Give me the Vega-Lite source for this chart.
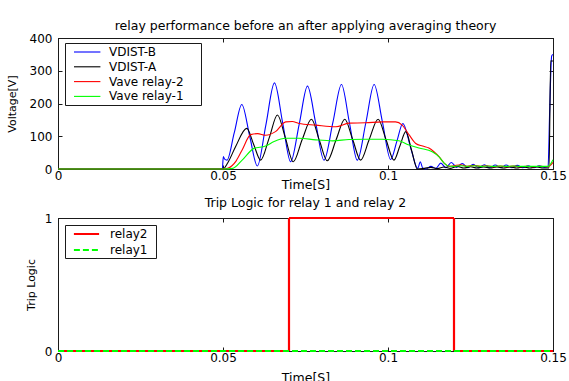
{
  "$schema": "https://vega.github.io/schema/vega-lite/v6.json",
  "padding": {"left": 5, "top": 19, "right": 0, "bottom": 0},
  "background": "white",
  "spacing": 5,
  "resolve": {"scale": {"color": "independent", "strokeDash": "independent", "x": "independent", "y": "independent"}, "legend": {"color": "independent", "strokeDash": "independent"}},
  "datasets": {
    "top": [
      {"s":"VDIST-B","t":0,"v":0},{"s":"VDIST-B","t":0.0498,"v":0},{"s":"VDIST-B","t":0.0501,"v":38},{"s":"VDIST-B","t":0.0505,"v":30},{"s":"VDIST-B","t":0.0512,"v":27},{"s":"VDIST-B","t":0.0534,"v":110},{"s":"VDIST-B","t":0.0557,"v":197},{"s":"VDIST-B","t":0.0581,"v":100},{"s":"VDIST-B","t":0.0604,"v":9},{"s":"VDIST-B","t":0.063,"v":135},{"s":"VDIST-B","t":0.0656,"v":263},{"s":"VDIST-B","t":0.0681,"v":140},{"s":"VDIST-B","t":0.0705,"v":22},{"s":"VDIST-B","t":0.0731,"v":137},{"s":"VDIST-B","t":0.0756,"v":253},{"s":"VDIST-B","t":0.0781,"v":140},{"s":"VDIST-B","t":0.0806,"v":27},{"s":"VDIST-B","t":0.0833,"v":142},{"s":"VDIST-B","t":0.0859,"v":258},{"s":"VDIST-B","t":0.0883,"v":142},{"s":"VDIST-B","t":0.0907,"v":27},{"s":"VDIST-B","t":0.0933,"v":142},{"s":"VDIST-B","t":0.0958,"v":258},{"s":"VDIST-B","t":0.0983,"v":144},{"s":"VDIST-B","t":0.1008,"v":29},{"s":"VDIST-B","t":0.1027,"v":85},{"s":"VDIST-B","t":0.1045,"v":139},{"s":"VDIST-B","t":0.107,"v":60},{"s":"VDIST-B","t":0.109,"v":2},{"s":"VDIST-B","t":0.1098,"v":22},{"s":"VDIST-B","t":0.1105,"v":3},{"s":"VDIST-B","t":0.1115,"v":0},{"s":"VDIST-B","t":0.113,"v":8},{"s":"VDIST-B","t":0.1145,"v":2},{"s":"VDIST-B","t":0.116,"v":18},{"s":"VDIST-B","t":0.1175,"v":4},{"s":"VDIST-B","t":0.1192,"v":20},{"s":"VDIST-B","t":0.1208,"v":5},{"s":"VDIST-B","t":0.1225,"v":17},{"s":"VDIST-B","t":0.1242,"v":4},{"s":"VDIST-B","t":0.1258,"v":14},{"s":"VDIST-B","t":0.1275,"v":4},{"s":"VDIST-B","t":0.1292,"v":13},{"s":"VDIST-B","t":0.1308,"v":4},{"s":"VDIST-B","t":0.1325,"v":12},{"s":"VDIST-B","t":0.1342,"v":4},{"s":"VDIST-B","t":0.1358,"v":12},{"s":"VDIST-B","t":0.1375,"v":4},{"s":"VDIST-B","t":0.1392,"v":11},{"s":"VDIST-B","t":0.1408,"v":4},{"s":"VDIST-B","t":0.1425,"v":10},{"s":"VDIST-B","t":0.1442,"v":4},{"s":"VDIST-B","t":0.1458,"v":10},{"s":"VDIST-B","t":0.1475,"v":5},{"s":"VDIST-B","t":0.1485,"v":6},{"s":"VDIST-B","t":0.149,"v":180},{"s":"VDIST-B","t":0.1496,"v":345},{"s":"VDIST-B","t":0.15,"v":350},
      {"s":"VDIST-A","t":0,"v":0},{"s":"VDIST-A","t":0.05,"v":0},{"s":"VDIST-A","t":0.0515,"v":20},{"s":"VDIST-A","t":0.0538,"v":68},{"s":"VDIST-A","t":0.0572,"v":124},{"s":"VDIST-A","t":0.0593,"v":75},{"s":"VDIST-A","t":0.0614,"v":27},{"s":"VDIST-A","t":0.064,"v":95},{"s":"VDIST-A","t":0.0665,"v":165},{"s":"VDIST-A","t":0.0689,"v":95},{"s":"VDIST-A","t":0.0713,"v":22},{"s":"VDIST-A","t":0.074,"v":90},{"s":"VDIST-A","t":0.0768,"v":152},{"s":"VDIST-A","t":0.0792,"v":88},{"s":"VDIST-A","t":0.0816,"v":25},{"s":"VDIST-A","t":0.0843,"v":90},{"s":"VDIST-A","t":0.0869,"v":152},{"s":"VDIST-A","t":0.0893,"v":90},{"s":"VDIST-A","t":0.0917,"v":27},{"s":"VDIST-A","t":0.0943,"v":90},{"s":"VDIST-A","t":0.097,"v":152},{"s":"VDIST-A","t":0.0994,"v":90},{"s":"VDIST-A","t":0.1018,"v":27},{"s":"VDIST-A","t":0.1036,"v":70},{"s":"VDIST-A","t":0.1054,"v":114},{"s":"VDIST-A","t":0.1072,"v":55},{"s":"VDIST-A","t":0.1089,"v":0},{"s":"VDIST-A","t":0.111,"v":2},{"s":"VDIST-A","t":0.113,"v":5},{"s":"VDIST-A","t":0.115,"v":1},{"s":"VDIST-A","t":0.117,"v":6},{"s":"VDIST-A","t":0.119,"v":2},{"s":"VDIST-A","t":0.121,"v":8},{"s":"VDIST-A","t":0.123,"v":3},{"s":"VDIST-A","t":0.125,"v":7},{"s":"VDIST-A","t":0.127,"v":3},{"s":"VDIST-A","t":0.129,"v":6},{"s":"VDIST-A","t":0.131,"v":3},{"s":"VDIST-A","t":0.133,"v":6},{"s":"VDIST-A","t":0.135,"v":3},{"s":"VDIST-A","t":0.137,"v":6},{"s":"VDIST-A","t":0.139,"v":3},{"s":"VDIST-A","t":0.141,"v":6},{"s":"VDIST-A","t":0.143,"v":3},{"s":"VDIST-A","t":0.145,"v":6},{"s":"VDIST-A","t":0.147,"v":3},{"s":"VDIST-A","t":0.1488,"v":3},{"s":"VDIST-A","t":0.1493,"v":330},{"s":"VDIST-A","t":0.15,"v":330},
      {"s":"Vave relay-2","t":0,"v":0},{"s":"Vave relay-2","t":0.05,"v":0},{"s":"Vave relay-2","t":0.0516,"v":3},{"s":"Vave relay-2","t":0.054,"v":25},{"s":"Vave relay-2","t":0.0558,"v":58},{"s":"Vave relay-2","t":0.0584,"v":105},{"s":"Vave relay-2","t":0.0605,"v":108},{"s":"Vave relay-2","t":0.0629,"v":103},{"s":"Vave relay-2","t":0.0659,"v":114},{"s":"Vave relay-2","t":0.069,"v":144},{"s":"Vave relay-2","t":0.071,"v":145},{"s":"Vave relay-2","t":0.073,"v":139},{"s":"Vave relay-2","t":0.0781,"v":134},{"s":"Vave relay-2","t":0.0842,"v":129},{"s":"Vave relay-2","t":0.0882,"v":140},{"s":"Vave relay-2","t":0.0932,"v":141},{"s":"Vave relay-2","t":0.0983,"v":144},{"s":"Vave relay-2","t":0.1023,"v":144},{"s":"Vave relay-2","t":0.1043,"v":134},{"s":"Vave relay-2","t":0.1064,"v":104},{"s":"Vave relay-2","t":0.1084,"v":78},{"s":"Vave relay-2","t":0.1105,"v":70},{"s":"Vave relay-2","t":0.1124,"v":64},{"s":"Vave relay-2","t":0.114,"v":52},{"s":"Vave relay-2","t":0.1155,"v":37},{"s":"Vave relay-2","t":0.117,"v":18},{"s":"Vave relay-2","t":0.1185,"v":8},{"s":"Vave relay-2","t":0.12,"v":10},{"s":"Vave relay-2","t":0.122,"v":13},{"s":"Vave relay-2","t":0.124,"v":8},{"s":"Vave relay-2","t":0.126,"v":11},{"s":"Vave relay-2","t":0.128,"v":8},{"s":"Vave relay-2","t":0.13,"v":10},{"s":"Vave relay-2","t":0.132,"v":7},{"s":"Vave relay-2","t":0.134,"v":9},{"s":"Vave relay-2","t":0.136,"v":7},{"s":"Vave relay-2","t":0.138,"v":9},{"s":"Vave relay-2","t":0.14,"v":7},{"s":"Vave relay-2","t":0.142,"v":8},{"s":"Vave relay-2","t":0.144,"v":7},{"s":"Vave relay-2","t":0.146,"v":8},{"s":"Vave relay-2","t":0.1485,"v":7},{"s":"Vave relay-2","t":0.15,"v":20},
      {"s":"Vave relay-1","t":0,"v":0},{"s":"Vave relay-1","t":0.05,"v":0},{"s":"Vave relay-1","t":0.053,"v":2},{"s":"Vave relay-1","t":0.0558,"v":27},{"s":"Vave relay-1","t":0.0594,"v":63},{"s":"Vave relay-1","t":0.0629,"v":70},{"s":"Vave relay-1","t":0.0655,"v":84},{"s":"Vave relay-1","t":0.069,"v":94},{"s":"Vave relay-1","t":0.073,"v":94},{"s":"Vave relay-1","t":0.0781,"v":89},{"s":"Vave relay-1","t":0.0832,"v":86},{"s":"Vave relay-1","t":0.0882,"v":90},{"s":"Vave relay-1","t":0.0932,"v":91},{"s":"Vave relay-1","t":0.0983,"v":91},{"s":"Vave relay-1","t":0.1033,"v":86},{"s":"Vave relay-1","t":0.1064,"v":73},{"s":"Vave relay-1","t":0.1094,"v":64},{"s":"Vave relay-1","t":0.1134,"v":53},{"s":"Vave relay-1","t":0.1155,"v":37},{"s":"Vave relay-1","t":0.117,"v":18},{"s":"Vave relay-1","t":0.1182,"v":9},{"s":"Vave relay-1","t":0.12,"v":8},{"s":"Vave relay-1","t":0.122,"v":10},{"s":"Vave relay-1","t":0.124,"v":8},{"s":"Vave relay-1","t":0.126,"v":10},{"s":"Vave relay-1","t":0.128,"v":8},{"s":"Vave relay-1","t":0.13,"v":9},{"s":"Vave relay-1","t":0.132,"v":8},{"s":"Vave relay-1","t":0.134,"v":9},{"s":"Vave relay-1","t":0.136,"v":8},{"s":"Vave relay-1","t":0.138,"v":9},{"s":"Vave relay-1","t":0.14,"v":8},{"s":"Vave relay-1","t":0.142,"v":8},{"s":"Vave relay-1","t":0.144,"v":8},{"s":"Vave relay-1","t":0.146,"v":8},{"s":"Vave relay-1","t":0.1485,"v":8},{"s":"Vave relay-1","t":0.15,"v":28}
    ],
    "bottom": [
      {"s":"relay2","t":0,"v":0},{"s":"relay2","t":0.07,"v":1},{"s":"relay2","t":0.12,"v":0},{"s":"relay2","t":0.15,"v":0},
      {"s":"relay1","t":0,"v":0},{"s":"relay1","t":0.15,"v":0}
    ]
  },
  "vconcat": [
    {
      "width": 495,
      "height": 131,
      "title": {"text": "relay performance before an after applying averaging theory", "offset": 0},
      "data": {"name": "top"},
      "layer": [
        {
          "mark": {"type": "line", "strokeWidth": 1.1, "interpolate": "monotone"},
          "encoding": {
            "x": {"field": "t", "type": "quantitative", "scale": {"domain": [0, 0.15], "nice": false, "zero": false},
                  "axis": {"values": [0, 0.05, 0.1, 0.15], "format": ".2~f", "title": "Time[S]", "titlePadding": -3}},
            "y": {"field": "v", "type": "quantitative", "scale": {"domain": [0, 400], "nice": false},
                  "axis": {"values": [0, 100, 200, 300, 400], "format": "d", "title": "Voltage[V]", "titlePadding": 12}},
            "color": {"field": "s", "type": "nominal",
                      "scale": {"domain": ["VDIST-B", "VDIST-A", "Vave relay-2", "Vave relay-1"], "range": ["#0000ff", "#000000", "#ff0000", "#00ff00"]},
                      "legend": {"orient": "none", "legendX": 7, "legendY": 5, "title": null, "symbolType": "M-2.2,0H2.2M18.2,0", "symbolSize": 144, "symbolStrokeWidth": 1.1, "symbolOffset": 13.2, "labelOffset": 14.8, "labelFontSize": 12, "labelColor": "#000", "rowPadding": 1.8, "padding": 2, "strokeColor": "#1a1a1a", "fillColor": "white", "labelLimit": 300}}
          }
        },
        {
          "mark": {"type": "line", "opacity": 0},
          "encoding": {
            "x": {"field": "t", "type": "quantitative", "scale": {"domain": [0, 0.15], "nice": false, "zero": false},
                  "axis": {"orient": "top", "values": [0, 0.05, 0.1, 0.15], "labels": false, "title": null}},
            "y": {"field": "v", "type": "quantitative", "scale": {"domain": [0, 400], "nice": false},
                  "axis": {"orient": "right", "values": [0, 100, 200, 300, 400], "labels": false, "title": null}}
          }
        }
      ],
      "resolve": {"axis": {"x": "independent", "y": "independent"}}
    },
    {
      "width": 495,
      "height": 133,
      "title": {"text": "Trip Logic for relay 1 and relay 2", "offset": 3},
      "data": {"name": "bottom"},
      "layer": [
        {
          "mark": {"type": "line", "strokeWidth": 2.2, "interpolate": "step-after"},
          "encoding": {
            "x": {"field": "t", "type": "quantitative", "scale": {"domain": [0, 0.15], "nice": false, "zero": false},
                  "axis": {"values": [0, 0.05, 0.1, 0.15], "format": ".2~f", "title": "Time[S]", "titlePadding": 8}},
            "y": {"field": "v", "type": "quantitative", "scale": {"domain": [0, 1], "nice": false},
                  "axis": {"values": [0, 1], "format": "d", "title": "Trip Logic", "titlePadding": 8}},
            "color": {"field": "s", "type": "nominal",
                      "scale": {"domain": ["relay2", "relay1"], "range": ["#ff0000", "#00ff00"]},
                      "legend": {"orient": "none", "legendX": 7, "legendY": 7, "title": null, "symbolType": "M-2.1,0H2.1M10.5,0", "symbolSize": 144, "symbolStrokeWidth": 2, "symbolOffset": 12.5, "labelOffset": 16.5, "labelFontSize": 12, "labelColor": "#000", "rowPadding": 3, "padding": 2, "strokeColor": "#1a1a1a", "fillColor": "white", "labelLimit": 300}},
            "strokeDash": {"field": "s", "type": "nominal",
                      "scale": {"domain": ["relay2", "relay1"], "range": [[1, 0], [6, 3]]},
                      "legend": {"orient": "none", "legendX": 7, "legendY": 7, "title": null, "symbolType": "M-2.1,0H2.1M10.5,0", "symbolSize": 144, "symbolStrokeWidth": 2, "symbolOffset": 12.5, "labelOffset": 16.5, "labelFontSize": 12, "labelColor": "#000", "rowPadding": 3, "padding": 2, "strokeColor": "#1a1a1a", "fillColor": "white", "labelLimit": 300}}
          }
        },
        {
          "mark": {"type": "line", "opacity": 0},
          "encoding": {
            "x": {"field": "t", "type": "quantitative", "scale": {"domain": [0, 0.15], "nice": false, "zero": false},
                  "axis": {"orient": "top", "values": [0, 0.05, 0.1, 0.15], "labels": false, "title": null}},
            "y": {"field": "v", "type": "quantitative", "scale": {"domain": [0, 1], "nice": false},
                  "axis": {"orient": "right", "values": [0, 1], "labels": false, "title": null}}
          }
        }
      ],
      "resolve": {"axis": {"x": "independent", "y": "independent"}}
    }
  ],
  "config": {
    "font": "DejaVu Sans",
    "view": {"stroke": "#1a1a1a", "strokeWidth": 1},
    "axis": {"grid": false, "domainColor": "#1a1a1a", "tickColor": "#1a1a1a", "tickSize": -4, "labelColor": "#000", "labelFontSize": 12, "labelPadding": 10, "labelFlush": false, "labelOverlap": false, "titleColor": "#000", "titleFontWeight": "normal", "labelFont": "DejaVu Sans", "titleFont": "DejaVu Sans"},
    "axisX": {"titleFontSize": 12.5, "labelPadding": 5},
    "axisY": {"titleFontSize": 11},
    "title": {"fontSize": 12.5, "fontWeight": "normal", "color": "#000", "font": "DejaVu Sans"},
    "legend": {"labelFont": "DejaVu Sans"}
  }
}
